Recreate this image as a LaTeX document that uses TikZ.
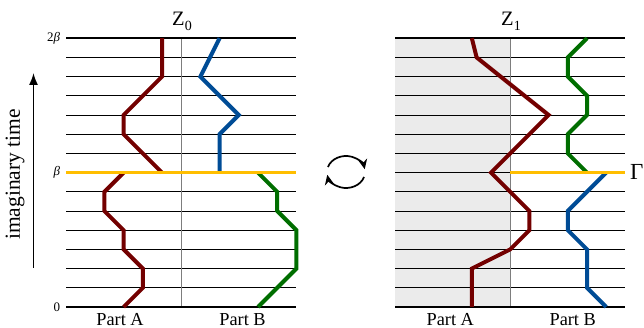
\documentclass[tikz,border=0pt]{standalone}
\usepackage{fontspec}
\setmainfont{Liberation Serif}
\usetikzlibrary{arrows.meta}
\definecolor{wred}{RGB}{115,0,0}
\definecolor{wblue}{RGB}{0,76,150}
\definecolor{wgreen}{RGB}{0,110,0}
\definecolor{wyellow}{RGB}{255,190,0}
\definecolor{shadefill}{RGB}{235,235,235}
\definecolor{midgray}{RGB}{125,125,125}
\tikzset{
  thinline/.style={line width=0.9pt,black},
  midline/.style={line width=0.9pt,midgray},
  boundary/.style={line width=2.3pt,black},
  wline/.style={line width=4pt,miter limit=10},
  gammaline/.style={line width=3pt,wyellow},
  ticklabel/.style={anchor=east,inner sep=0pt,font=\fontsize{13}{14}\selectfont},
  partlabel/.style={anchor=base,inner sep=0pt,font=\fontsize{18.3}{20}\selectfont},
  zlabel/.style={anchor=base,inner sep=0pt,font=\fontsize{20.5}{22}\selectfont},
  cycarrow/.style={line width=1.7pt,-{Stealth[length=10pt,width=9pt]}},
}
\newcommand\panelgrid{%
  \foreach \k in {1,...,13} \draw[thinline] (0,\k) -- (12,\k);
  \draw[midline] (6,0) -- (6,14);
  \draw[boundary] (0,0) -- (12,0);
  \draw[boundary] (0,14) -- (12,14);
}
\begin{document}
\begin{tikzpicture}[x=1pt,y=1pt]
\useasboundingbox (0,0) rectangle (644,328);

% ---------- left panel ----------
\begin{scope}[shift={(66pt,21pt)},x=19.2pt,y=19.2pt]
  \panelgrid
  \draw[wline,wred]   (5,14) -- (5,12) -- (3,10) -- (3,9) -- (5,7);
  \draw[wline,wblue]  (8,14) -- (7,12) -- (9,10) -- (8,9) -- (8,7);
  \draw[wline,wred]   (3,7) -- (2,6) -- (2,5) -- (3,4) -- (3,3) -- (4,2) -- (4,1) -- (3,0);
  \draw[wline,wgreen] (10,7) -- (11,6) -- (11,5) -- (12,4) -- (12,2) -- (10,0);
  \draw[gammaline] (0,7) -- (12,7);
  \node[ticklabel] (t2b) at (-0.3,14) {2\textit{β}};
  \node[ticklabel] (tb)  at (-0.3,7)  {\textit{β}};
  \node[ticklabel] (t0)  at (-0.3,0)  {0};
\end{scope}

% ---------- right panel ----------
\begin{scope}[shift={(395pt,21pt)},x=19.2pt,y=19.2pt]
  \fill[shadefill] (0,0) rectangle (6,14);
  \panelgrid
  \draw[wline,wred]   (4,14) -- (4.25,13) -- (8,10) -- (5,7) -- (7,5) -- (7,4) -- (6,3) -- (4,2) -- (4,0);
  \draw[wline,wgreen] (10,14) -- (9,13) -- (9,12) -- (10,11) -- (10,10) -- (9,9) -- (9,8) -- (10,7);
  \draw[wline,wblue]  (11,7) -- (9,5) -- (9,4) -- (10,3) -- (10,1) -- (11,0);
  \draw[gammaline] (6,7) -- (12,7);
\end{scope}

% ---------- labels ----------
\node[zlabel] (z0) at (182,302) {Z\raisebox{-0.22em}{\fontsize{14}{15}\selectfont 0}};
\node[zlabel] (z1) at (511,302) {Z\raisebox{-0.22em}{\fontsize{14}{15}\selectfont 1}};
\node[partlabel] (pa0) at (120,2.5) {Part A};
\node[partlabel] (pb0) at (242.5,2.5) {Part B};
\node[partlabel] (pa1) at (450.3,2.5) {Part A};
\node[partlabel] (pb1) at (572.7,2.5) {Part B};
\node[anchor=west,inner sep=0pt,font=\fontsize{23}{24}\selectfont] (gam) at (630,156) {Γ};

% imaginary time axis
\coordinate (tbot) at (33.5,60);
\coordinate (ttop) at (33.5,255);
\draw[line width=1.6pt,-{Latex[length=12pt,width=9pt]}] (tbot) -- (ttop);
\node[rotate=90,inner sep=0pt,font=\fontsize{21.5}{23}\selectfont] (itime) at (15,153.5) {imaginary time};

% cycle arrows
\coordinate (cyc) at (346,156);
\draw[cycarrow] (cyc) ++(162:19pt and 16pt)
   arc[start angle=162,end angle=10,x radius=19pt,y radius=16pt];
\draw[cycarrow] (cyc) ++(-18:19pt and 16pt)
   arc[start angle=-18,end angle=-170,x radius=19pt,y radius=16pt];
\end{tikzpicture}
\end{document}
